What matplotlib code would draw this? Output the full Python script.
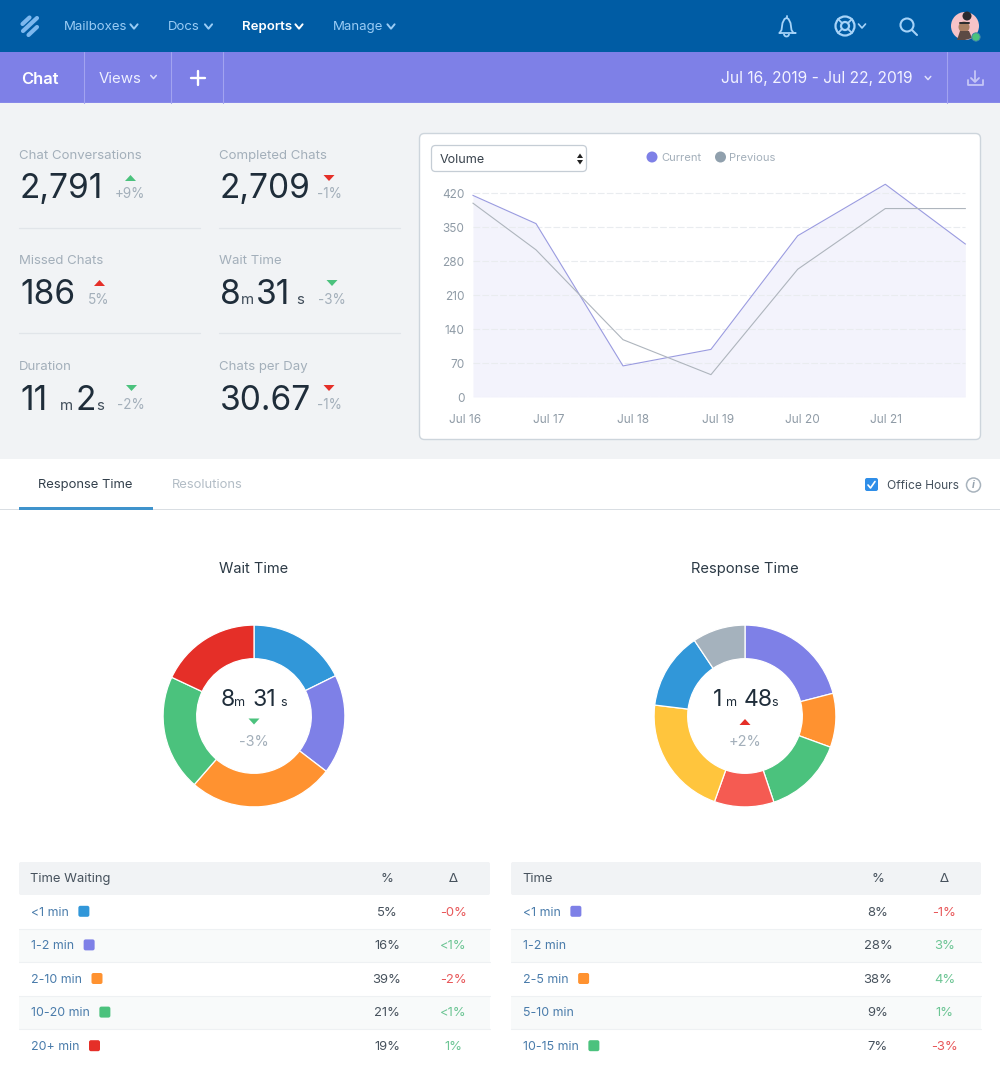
import matplotlib
matplotlib.use('Agg')
import matplotlib.pyplot as plt
from matplotlib.patches import Rectangle, FancyBboxPatch, Circle, Polygon, Arc

plt.rcParams['font.family'] = ['Inter', 'DejaVu Sans']

# line chart values
day_pos = [0.095, 0.843, 1.876, 2.92, 3.95, 4.99, 5.94]
current = [415, 357, 64, 98, 332, 438, 315]
previous = [399, 303, 118, 46, 263, 388, 388]
y_ticks = [0, 70, 140, 210, 280, 350, 420]
day_ticks = [0, 1, 2, 3, 4, 5]
day_labels = ['Jul 16', 'Jul 17', 'Jul 18', 'Jul 19', 'Jul 20', 'Jul 21']

# donuts
wait_shares = [17.7, 17.7, 26.0, 20.6, 18.0]
wait_colors = ['#3197d9', '#7e80e7', '#ff9230', '#4bc27d', '#e52f28']
resp_shares = [21.0, 9.6, 14.3, 10.6, 21.5, 13.7, 9.4]
resp_colors = ['#7e80e7', '#ff9230', '#4bc27d', '#f55b52', '#ffc53d', '#3197d9', '#a5b2bd']

# tables
wait_rows = ['<1 min', '1-2 min', '2-10 min', '10-20 min', '20+ min']
wait_pct = ['5%', '16%', '39%', '21%', '19%']
wait_delta = ['-0%', '<1%', '-2%', '<1%', '1%']
wait_swatch = ['#3197d9', '#7e80e7', '#ff9230', '#4bc27d', '#e52f28']
resp_rows = ['<1 min', '1-2 min', '2-5 min', '5-10 min', '10-15 min']
resp_pct = ['8%', '28%', '38%', '9%', '7%']
resp_delta = ['-1%', '3%', '4%', '1%', '-3%']
resp_swatch = ['#7e80e7', None, '#ff9230', None, '#4bc27d']

NAVY = '#005ca4'
PURPLE = '#7e80e7'
PANEL = '#f1f3f5'
DARK = '#1f2d3a'
GREY = '#a3afba'
GREEN = '#4bc27d'
RED = '#e52f28'

fig = plt.figure(figsize=(10, 10.83), dpi=100, facecolor='white')
bg = fig.add_axes([0, 0, 1, 1])
bg.set_xlim(0, 1000)
bg.set_ylim(1083, 0)
bg.axis('off')


def px_axes(x0, y0, x1, y1):
    return fig.add_axes([x0 / 1000, 1 - y1 / 1083, (x1 - x0) / 1000, (y1 - y0) / 1083])


def txt(x, y, s, px=13.5, color=DARK, ha='left', va='center', weight='normal', **kw):
    # inter sits a bit high when centred
    if va == 'center':
        y = y + 1.2
    return bg.text(x, y, s, fontsize=px * 0.72, color=color, ha=ha, va=va, fontweight=weight, **kw)


def rect(x0, y0, x1, y1, color, z=1):
    bg.add_patch(Rectangle((x0, y0), x1 - x0, y1 - y0, facecolor=color, edgecolor='none', zorder=z))


def seg(xs, ys, color, lw=1.0, z=3, **kw):
    bg.plot(xs, ys, color=color, lw=lw, zorder=z, solid_capstyle='round', **kw)


def chevron(x, y, color, w=3.6, h=2.2, lw=1.4):
    seg([x - w, x, x + w], [y - h, y + h, y - h], color, lw)


def tri(x, y, up, color):
    if up:
        pts = [(x - 5.5, y + 3), (x + 5.5, y + 3), (x, y - 3)]
    else:
        pts = [(x - 5.5, y - 3), (x + 5.5, y - 3), (x, y + 3)]
    bg.add_patch(Polygon(pts, closed=True, facecolor=color, edgecolor='none', zorder=3))


# top nav
rect(0, 0, 1000, 52, NAVY)
rect(0, 52, 1000, 103, PURPLE)
rect(0, 103, 1000, 459, PANEL)
seg([22.5, 29.5], [24, 17.5], '#7db8ee', 3.0)
seg([23, 37], [31, 18], '#7db8ee', 3.0)
seg([28.5, 37], [35, 27], '#7db8ee', 3.0)
nav_items = ['Mailboxes', 'Docs', 'Reports', 'Manage']
nav_x = [64, 168, 242, 333]
nav_chev = [134, 208.5, 299, 391]
for name, x, cx in zip(nav_items, nav_x, nav_chev):
    on = name == 'Reports'
    c = 'white' if on else '#9accf5'
    txt(x, 26, name, 13.2, c, weight='semibold' if on else 'normal')
    chevron(cx, 26.5, c)

# nav icons
ICON = '#a6d3f8'
bell_x = [780, 782, 783, 785, 787, 789, 791, 792, 794, 796, 780]
bell_y = [33, 30, 23, 19, 18, 19, 23, 30, 33, 33, 33]
seg([x - 0.5 for x in bell_x], bell_y, ICON, 1.3)
seg([787, 787], [16, 18], ICON, 1.3)
bg.add_patch(Arc((786.5, 34), 5, 5, theta1=0, theta2=180, color=ICON, lw=1.3, zorder=3))
bg.add_patch(Circle((845, 26), 9.5, fill=False, ec=ICON, lw=1.6, zorder=3))
bg.add_patch(Circle((845, 26), 4, fill=False, ec=ICON, lw=1.6, zorder=3))
for sx, sy in [(-1, -1), (1, -1), (-1, 1), (1, 1)]:
    seg([845 + sx * 3, 845 + sx * 7], [26 + sy * 3, 26 + sy * 7], ICON, 1.3)
chevron(862, 26, ICON, 3.5, 2, 1.2)
bg.add_patch(Circle((907, 25), 6.5, fill=False, ec=ICON, lw=1.5, zorder=3))
seg([912, 917], [30, 35], ICON, 1.5)
bg.add_patch(Circle((965, 26), 14, fc='#f6c3c8', ec='none', zorder=3))
bg.add_patch(Circle((967, 16), 4.5, fc='#2a2a2e', ec='none', zorder=4))
bg.add_patch(Circle((964, 27), 5.5, fc='#a97f63', ec='none', zorder=4))
bg.add_patch(Polygon([(957, 40), (960, 31), (969, 31), (972, 38), (965, 40)], fc='#5c4a44', ec='none', zorder=4))
seg([960, 969], [23, 23], '#2a2a2e', 1.4, z=5)
bg.add_patch(Circle((976, 37), 4.2, fc=GREEN, ec='#3f7fae', lw=0.6, zorder=6))

# sub nav
for x in [84, 171, 223, 947]:
    seg([x, x], [52, 103], '#a2a3f0', 0.8)
rect(0, 102, 1000, 103, '#8789e9', 2)
txt(21, 78, 'Chat', 16.5, 'white', weight='semibold')
txt(99, 77.5, 'Views', 15, '#eef0ff')
chevron(153.5, 77, '#dfe0fb', 2.8, 1.6, 1.1)
seg([191, 205], [78, 78], 'white', 1.7)
seg([198, 198], [71, 85], 'white', 1.7)
txt(721, 77.5, 'Jul 16, 2019 - Jul 22, 2019', 15.6, '#f3f3ff')
chevron(928, 78, '#dfe0fb', 2.8, 1.6, 1.1)
seg([975, 975], [71, 81], '#c5c6f6', 1.3)
seg([971, 975, 979], [78, 82, 78], '#c5c6f6', 1.3)
seg([967.5, 967.5, 982.5, 982.5], [80, 85, 85, 80], '#c5c6f6', 1.3)

# stats
stat_names = ['Chat Conversations', 'Completed Chats', 'Missed Chats', 'Wait Time', 'Duration', 'Chats per Day']
stat_pos = [(19, 155), (219, 155), (19, 260), (219, 260), (19, 366), (219, 366)]
for name, (x, y) in zip(stat_names, stat_pos):
    txt(x, y, name, 13.2, GREY)
for y in [228, 333]:
    seg([19, 200], [y, y], '#e1e5e9', 0.9)
    seg([219, 400], [y, y], '#e1e5e9', 0.9)

BIG = 33.5


def big(x, y, s, px=BIG, color=DARK):
    txt(x, y, s, px, color, va='baseline', weight='normal')


big(20, 198, '2,791')
big(219.5, 198, '2,709')
big(20, 304, '186')
big(220, 304, '8')
big(241, 304, 'm', 15, '#3f4c59')
big(256, 304, '31')
big(296, 304, 's', 15, '#3f4c59')
big(20, 410, '11')
big(60, 410, 'm', 15, '#3f4c59')
big(76, 410, '2')
big(96, 410, 's', 15, '#3f4c59')
big(219.5, 410, '30.67')

tri(130.5, 178, True, GREEN)
txt(130, 193, '+9%', 13.5, GREY, ha='center')
tri(329, 178, False, RED)
txt(329.5, 193, '-1%', 13.5, GREY, ha='center')
tri(99.5, 283, True, RED)
txt(99, 299, '5%', 13.5, GREY, ha='center')
tri(332, 283, False, GREEN)
txt(332, 299, '-3%', 13.5, GREY, ha='center')
tri(131.5, 388, False, GREEN)
txt(131, 404, '-2%', 13.5, GREY, ha='center')
tri(329, 388, False, RED)
txt(329.5, 404, '-1%', 13.5, GREY, ha='center')

# chart card
bg.add_patch(FancyBboxPatch((419.5, 133.5), 561, 306, boxstyle='round,pad=0,rounding_size=5',
                            fc='white', ec='#cdd5dc', lw=1, zorder=1))
bg.add_patch(FancyBboxPatch((431.5, 145.5), 155, 26, boxstyle='round,pad=0,rounding_size=4',
                            fc='white', ec='#c5cdd5', lw=0.9, zorder=2))
txt(440, 158.5, 'Volume', 12.6, '#39434d')
tri2 = [[(577, 158), (583, 158), (580, 153.5)], [(577, 160), (583, 160), (580, 164.5)]]
for p in tri2:
    bg.add_patch(Polygon(p, fc='#222222', ec='none', zorder=3))
bg.add_patch(Circle((652, 157), 5.5, fc=PURPLE, ec='none', zorder=3))
txt(661, 157, 'Current', 11.2, GREY)
bg.add_patch(Circle((720.5, 157), 5.5, fc='#90a0ad', ec='none', zorder=3))
txt(729, 157, 'Previous', 11.2, GREY)

ax = px_axes(465, 183, 967, 397)
ax.patch.set_alpha(0)
ax.set_xlim(0, 5.96)
ax.set_ylim(0, 440.6)
ax.fill_between(day_pos, current, color='#f3f3fc', lw=0, zorder=1)
ax.hlines(y_ticks, day_pos[0], day_pos[-1], color='#e9ecef', lw=0.8, linestyles=(0, (6, 2)), zorder=2)
ax.plot(day_pos, current, color='#9a9be0', lw=0.8, zorder=3)
ax.plot(day_pos, previous, color='#aeb5bd', lw=0.8, zorder=3)
ax.set_yticks(y_ticks)
ax.set_xticks(day_ticks)
ax.set_xticklabels(day_labels)
ax.tick_params(length=0, labelsize=8.5, labelcolor='#8f9ba6')
ax.tick_params(axis='x', pad=12)
ax.tick_params(axis='y', pad=0.5)
for s in ax.spines.values():
    s.set_visible(False)

# tabs
txt(85.5, 484, 'Response Time', 13, '#33404c', ha='center')
txt(207.5, 484, 'Resolutions', 13, '#b3bdc6', ha='center')
rect(0, 509, 1000, 510, '#d9dee3')
rect(19, 507, 153, 509.5, '#3f93cc', 2)
bg.add_patch(FancyBboxPatch((865, 478), 13, 13, boxstyle='round,pad=0,rounding_size=2', fc='#2f8ee8', ec='none', zorder=2))
seg([868, 870.5, 875], [485, 488, 481.5], 'white', 1.2)
txt(887, 485, 'Office Hours', 12, '#46525e')
bg.add_patch(Circle((973.5, 485), 7, fill=False, ec='#a8b3bd', lw=1.1, zorder=2))
txt(973.5, 484, 'i', 10.5, '#98a4af', ha='center', style='italic', weight='bold')

# donuts
txt(254, 567.5, 'Wait Time', 14.6, '#2b3945', ha='center')
txt(745, 567.5, 'Response Time', 14.8, '#2b3945', ha='center')


def donut(cx, shares, colors):
    a = px_axes(cx - 92, 716 - 92, cx + 92, 716 + 92)
    a.pie(shares, colors=colors, startangle=90, counterclock=False, radius=1,
          wedgeprops={'width': 34 / 92, 'edgecolor': 'white', 'linewidth': 0.9})
    a.set_xlim(-1.012, 1.012)
    a.set_ylim(-1.012, 1.012)
    a.set_aspect('equal')
    return a


donut(254, wait_shares, wait_colors)
donut(745, resp_shares, resp_colors)

big(220.5, 706, '8', 23)
big(234, 706, 'm', 12.5)
big(252.5, 706, '31', 23)
big(280, 706, 's', 12.5)
tri(254, 721.5, False, GREEN)
txt(254, 740.5, '-3%', 14.5, GREY, ha='center')
big(712.5, 706, '1', 23)
big(726, 706, 'm', 12.5)
big(744, 706, '48', 23)
big(771, 706, 's', 12.5)
tri(745, 722, True, RED)
txt(745, 740.5, '+2%', 14.5, GREY, ha='center')


# tables
def table(x0, x1, head, rows, pct, delta, swatch):
    bg.add_patch(FancyBboxPatch((x0, 862), x1 - x0, 33, boxstyle='round,pad=0,rounding_size=2', fc='#f1f3f5', ec='none', zorder=1))
    txt(x0 + 11.5, 877.5, head, 13, '#47525d')
    txt(x1 - 103, 877.5, '%', 13, '#47525d', ha='center')
    txt(x1 - 36.5, 877.5, 'Δ', 13, '#47525d', ha='center', family=['DejaVu Sans'])
    top = 895.0
    h = 33.6
    for i, name in enumerate(rows):
        y0 = top + i * h
        if i % 2 == 1:
            rect(x0, y0, x1, y0 + h, '#f8fafa')
        if i > 0:
            seg([x0, x1], [y0, y0], '#eef1f3', 0.8, z=2)
        cy = y0 + h / 2 - 0.5
        t = txt(x0 + 12, cy, name, 12.4, '#4a7cab')
        if swatch[i]:
            bb = t.get_window_extent(fig.canvas.get_renderer())
            sx = bb.x1 + 9.5
            bg.add_patch(FancyBboxPatch((sx, cy - 5.5), 11, 11, boxstyle='round,pad=0,rounding_size=2',
                                        fc=swatch[i], ec='none', zorder=3))
        txt(x1 - 103, cy, pct[i], 13, '#47525d', ha='center')
        dc = '#e8585a' if delta[i].startswith('-') else '#6cc594'
        txt(x1 - 36.5, cy, delta[i], 13, dc, ha='center')


table(19, 490, 'Time Waiting', wait_rows, wait_pct, wait_delta, wait_swatch)
table(511, 981, 'Time', resp_rows, resp_pct, resp_delta, resp_swatch)

fig.savefig('out.png', dpi=100)
